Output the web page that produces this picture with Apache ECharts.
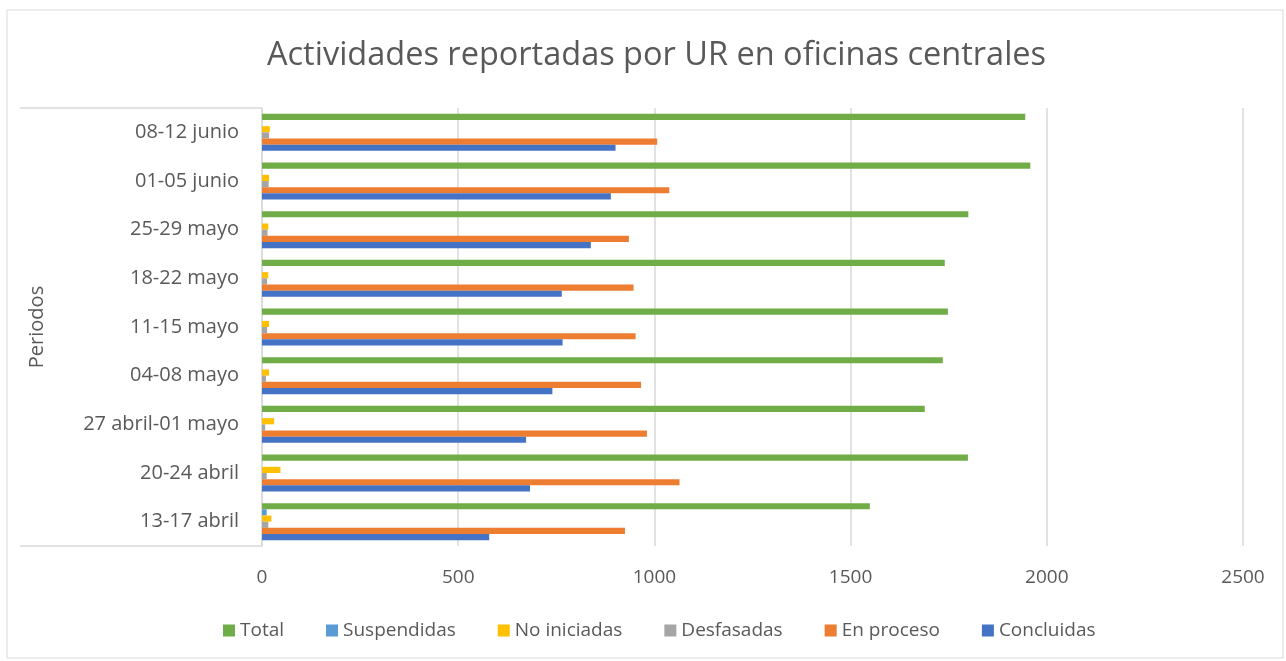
<!DOCTYPE html>
<html>
<head>
<meta charset="utf-8">
<script src="https://cdn.jsdelivr.net/npm/echarts@6/dist/echarts.min.js"></script>
<style>
  html, body { margin: 0; padding: 0; background: #fff; }
  #myChart { width: 1286px; height: 661px; }
</style>
</head>
<body>
<div id="myChart"></div>
<script>
// periodos, de abajo hacia arriba
var periodos = ['13-17 abril', '20-24 abril', '27 abril-01 mayo', '04-08 mayo', '11-15 mayo',
                '18-22 mayo', '25-29 mayo', '01-05 junio', '08-12 junio'];
var concluidas  = [579, 683, 673, 740, 766, 764, 838, 889, 901];
var enProceso   = [925, 1064, 981, 966, 952, 947, 935, 1038, 1007];
var desfasadas  = [16, 12, 8, 10, 13, 13, 14, 17, 18];
var noIniciadas = [24, 47, 31, 18, 18, 16, 16, 18, 20];
var suspendidas = [12, 0, 0, 0, 0, 0, 0, 0, 0];
var total       = [1549, 1799, 1689, 1735, 1748, 1740, 1800, 1958, 1945];
var xTicks = [0, 500, 1000, 1500, 2000, 2500];

var fuente = "'Open Sans', sans-serif";
var gris = '#595959';

function serie(nombre, datos, color) {
    return {
        name: nombre,
        type: 'bar',
        data: datos,
        barGap: '0%',
        barCategoryGap: '24%',
        itemStyle: { color: color },
        silent: true
    };
}

var myChart = echarts.init(document.getElementById('myChart'));
myChart.setOption({
    animation: false,
    textStyle: { fontFamily: fuente },
    title: {
        text: 'Actividades reportadas por UR en oficinas centrales',
        left: 262,
        top: 34,
        textStyle: { fontFamily: fuente, fontSize: 32.5, fontWeight: 'normal', color: gris }
    },
    legend: {
        bottom: 16,
        left: 218,
        itemWidth: 12,
        itemHeight: 12,
        itemGap: 42,
        icon: 'rect',
        textStyle: { fontFamily: fuente, fontSize: 19, color: gris },
        data: ['Total', 'Suspendidas', 'No iniciadas', 'Desfasadas', 'En proceso', 'Concluidas']
    },
    grid: { left: 262, right: 43, top: 108, bottom: 115 },
    xAxis: {
        type: 'value',
        min: xTicks[0],
        max: xTicks[xTicks.length - 1],
        interval: 500,
        axisLine: { show: false },
        axisTick: { show: false },
        axisLabel: { fontFamily: fuente, fontSize: 19, color: gris, margin: 22,
                     formatter: function (v) { return String(v); } },
        splitLine: { lineStyle: { color: '#d9d9d9', width: 1.5 } }
    },
    yAxis: {
        type: 'category',
        data: periodos,
        name: 'Periodos',
        nameLocation: 'middle',
        nameGap: 215,
        nameRotate: 90,
        nameTextStyle: { fontFamily: fuente, fontSize: 20, color: gris },
        axisLine: { lineStyle: { color: '#d9d9d9', width: 1.5 } },
        axisTick: { show: false },
        axisLabel: { fontFamily: fuente, fontSize: 20, color: gris, margin: 23 }
    },
    graphic: [
        { type: 'rect', shape: { x: 7, y: 10, width: 1276, height: 648 },
          style: { fill: null, stroke: '#d9d9d9', lineWidth: 1 }, silent: true },
        { type: 'line', shape: { x1: 20, y1: 108, x2: 262, y2: 108 },
          style: { stroke: '#d9d9d9', lineWidth: 1.5 }, silent: true },
        { type: 'line', shape: { x1: 20, y1: 546, x2: 262, y2: 546 },
          style: { stroke: '#d9d9d9', lineWidth: 1.5 }, silent: true }
    ],
    // el primer serie queda arriba en cada grupo
    series: [
        serie('Total', total, '#70AD47'),
        serie('Suspendidas', suspendidas, '#5B9BD5'),
        serie('No iniciadas', noIniciadas, '#FFC000'),
        serie('Desfasadas', desfasadas, '#A5A5A5'),
        serie('En proceso', enProceso, '#ED7D31'),
        serie('Concluidas', concluidas, '#4472C4')
    ]
});
</script>
</body>
</html>
